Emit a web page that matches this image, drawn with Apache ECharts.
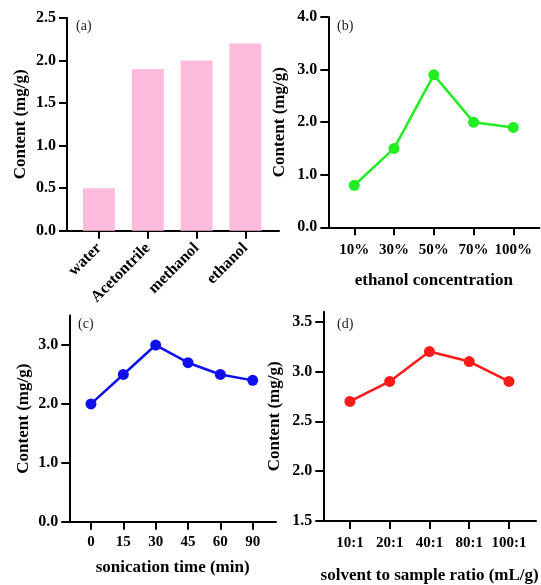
<!DOCTYPE html>
<html>
<head>
<meta charset="utf-8">
<script src="https://cdn.jsdelivr.net/npm/echarts@6/dist/echarts.min.js"></script>
<style>
html,body{margin:0;padding:0;background:#fff;}
#chart{width:541px;height:585px;}
</style>
</head>
<body>
<div id="chart"></div>
<script>
// ---- data ----
const solventCats = ['water', 'Acetontrile', 'methanol', 'ethanol'];
const solventVals = [0.5, 1.9, 2.0, 2.2];

const concCats = ['10%', '30%', '50%', '70%', '100%'];
const concVals = [0.8, 1.5, 2.9, 2.0, 1.9];

const timeCats = ['0', '15', '30', '45', '60', '90'];
const timeVals = [2.0, 2.5, 3.0, 2.7, 2.5, 2.4];

const ratioCats = ['10:1', '20:1', '40:1', '80:1', '100:1'];
const ratioVals = [2.7, 2.9, 3.2, 3.1, 2.9];

const yTicksA = [0, 0.5, 1.0, 1.5, 2.0, 2.5];
const yTicksB = [0, 1, 2, 3, 4];
const yTicksC = [0, 1, 2, 3];
const yTicksD = [1.5, 2.0, 2.5, 3.0, 3.5];

// ---- helpers ----
const FONT = 'Liberation Serif';
const axisLineStyle = { color: '#000', width: 2 };
function idx(arr) { return arr.map((_, i) => i); }
function pairs(vals) { return vals.map((v, i) => [i, v]); }

function xAxis(gridIndex, cats, min, max, opts, labelOpts) {
  return Object.assign({
    type: 'value', gridIndex, min, max,
    splitLine: { show: false },
    axisLine: { show: true, onZero: false, lineStyle: axisLineStyle },
    axisTick: { show: true, length: 8, lineStyle: { color: '#000', width: 2 }, customValues: idx(cats) },
    axisLabel: Object.assign({
      customValues: idx(cats),
      formatter: v => cats[Math.round(v)],
      fontFamily: FONT, fontWeight: 'bold', fontSize: 15, color: '#000', margin: 13
    }, labelOpts || {}),
    nameLocation: 'middle',
    nameTextStyle: { fontFamily: FONT, fontWeight: 'bold', fontSize: 17, color: '#000' }
  }, opts || {});
}
function yAxis(gridIndex, ticks, min, max, nameGap) {
  return {
    type: 'value', gridIndex, min, max,
    name: 'Content (mg/g)', nameLocation: 'middle', nameGap,
    nameTextStyle: { fontFamily: FONT, fontWeight: 'bold', fontSize: 17, color: '#000' },
    splitLine: { show: false },
    axisLine: { show: true, onZero: false, lineStyle: axisLineStyle },
    axisTick: { show: true, length: 8, lineStyle: { color: '#000', width: 2 }, customValues: ticks },
    axisLabel: {
      customValues: ticks,
      formatter: v => Number(v).toFixed(1),
      fontFamily: FONT, fontWeight: 'bold', fontSize: 16, color: '#000', margin: 11
    }
  };
}
function lineSeries(i, vals, color) {
  return {
    type: 'line', xAxisIndex: i, yAxisIndex: i, data: pairs(vals),
    symbol: 'circle', symbolSize: 11,
    lineStyle: { color, width: 2.5 }, itemStyle: { color },
    animation: false
  };
}
function panelTitle(text, left, top) {
  return { text, left, top, padding: 0,
    textStyle: { fontFamily: FONT, fontWeight: 'normal', fontSize: 14, color: '#222' } };
}

const chart = echarts.init(document.getElementById('chart'));
chart.setOption({
  backgroundColor: '#fff',
  animation: false,
  title: [
    panelTitle('(a)', 76, 19),
    panelTitle('(b)', 337, 19),
    panelTitle('(c)', 78, 317),
    panelTitle('(d)', 337, 317)
  ],
  grid: [
    { left: 67, top: 18, width: 212, height: 212.7 },
    { left: 328.3, top: 17, width: 211, height: 210.3 },
    { left: 69.3, top: 315.6, width: 206.7, height: 206.1 },
    { left: 323.3, top: 311.7, width: 212.7, height: 211 }
  ],
  xAxis: [
    xAxis(0, solventCats, -0.656, 3.688, {}, { rotate: 45, fontSize: 16, margin: 15 }),
    xAxis(1, concCats, -0.654, 4.654, { name: 'ethanol concentration', nameGap: 45 }, { margin: 15 }),
    xAxis(2, timeCats, -0.67, 5.72, { name: 'sonication time (min)', nameGap: 37 }),
    xAxis(3, ratioCats, -0.67, 4.68, { name: 'solvent to sample ratio (mL/g)', nameGap: 46 }, { margin: 15 })
  ],
  yAxis: [
    yAxis(0, yTicksA, 0, 2.5, 38),
    yAxis(1, yTicksB, 0, 4, 40),
    yAxis(2, yTicksC, 0, 3.5, 37),
    yAxis(3, yTicksD, 1.5, 3.6, 40)
  ],
  series: [
    {
      type: 'bar', xAxisIndex: 0, yAxisIndex: 0, data: pairs(solventVals),
      barWidth: 32, itemStyle: { color: '#FFBBDC' }, animation: false
    },
    lineSeries(1, concVals, '#22EE22'),
    lineSeries(2, timeVals, '#1010EE'),
    lineSeries(3, ratioVals, '#FF1A1A')
  ]
});
</script>
</body>
</html>
